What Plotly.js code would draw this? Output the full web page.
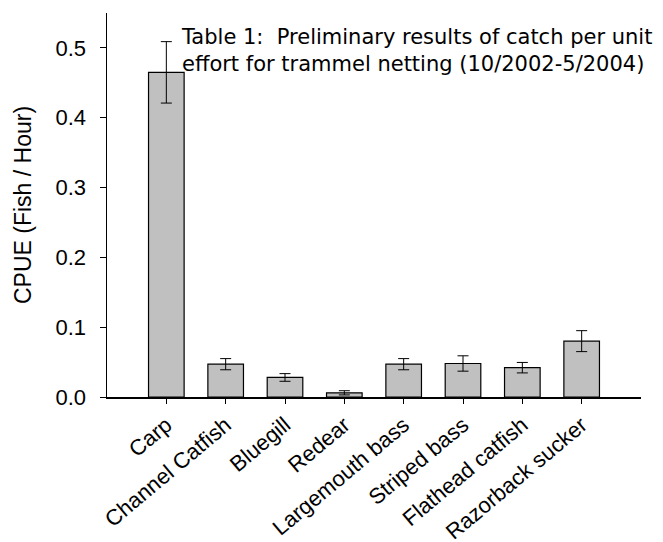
<!DOCTYPE html>
<html>
<head>
<meta charset="utf-8">
<script src="https://cdn.plot.ly/plotly-3.0.1.min.js"></script>
<style>html,body{margin:0;padding:0;background:#fff;}#chart{width:663px;height:542px;}</style>
</head>
<body>
<div id="chart"></div>
<script>
var species = ["Carp", "Channel Catfish", "Bluegill", "Redear", "Largemouth bass", "Striped bass", "Flathead catfish", "Razorback sucker"];
var cpue = [0.465, 0.047, 0.028, 0.006, 0.047, 0.048, 0.042, 0.080];
var stdErr = [0.044, 0.008, 0.0055, 0.003, 0.008, 0.011, 0.0075, 0.015];
var yTickVals = [0, 0.1, 0.2, 0.3, 0.4, 0.5];
var yTickText = ["0.0", "0.1", "0.2", "0.3", "0.4", "0.5"];
var titleLines = ["Table 1:  Preliminary results of catch per unit", "effort for trammel netting (10/2002-5/2004)"];

var sansFamily = "Arial, 'Liberation Sans', Helvetica, sans-serif";

var trace = {
  type: "bar",
  x: species,
  y: cpue,
  width: 0.6,
  marker: {color: "#c0c0c0", line: {color: "#000", width: 1.2}},
  error_y: {type: "data", array: stdErr, visible: true, color: "#000", thickness: 1, width: 5.5}
};

var layout = {
  width: 663, height: 542,
  margin: {l: 107, r: 22, t: 13, b: 145},
  paper_bgcolor: "#fff", plot_bgcolor: "#fff",
  showlegend: false,
  font: {family: sansFamily, size: 22, color: "#000"},
  xaxis: {
    range: [-1, 8], showline: true, linecolor: "#000", linewidth: 1.5,
    ticks: "outside", ticklen: 5, tickcolor: "#000", tickwidth: 1,
    tickangle: -40, showgrid: false, zeroline: false,
    tickfont: {family: sansFamily, size: 22}
  },
  yaxis: {
    range: [0, 0.55], showline: true, linecolor: "#000", linewidth: 1.5,
    ticks: "outside", ticklen: 6, tickcolor: "#000", tickwidth: 1,
    ticklabelstandoff: 9,
    tickvals: yTickVals, ticktext: yTickText, showgrid: false, zeroline: false,
    tickfont: {family: sansFamily, size: 22},
    title: {text: "CPUE (Fish / Hour)", font: {family: sansFamily, size: 23}, standoff: 17}
  },
  annotations: [{
    xref: "paper", yref: "paper", x: 0.135, y: 0.974, xanchor: "left", yanchor: "top",
    align: "left", showarrow: false,
    text: titleLines.join("<br>"),
    font: {family: "'DejaVu Sans', Verdana, sans-serif", size: 21, color: "#000"}
  }]
};

Plotly.newPlot("chart", [trace], layout, {displayModeBar: false, staticPlot: true});
</script>
</body>
</html>
